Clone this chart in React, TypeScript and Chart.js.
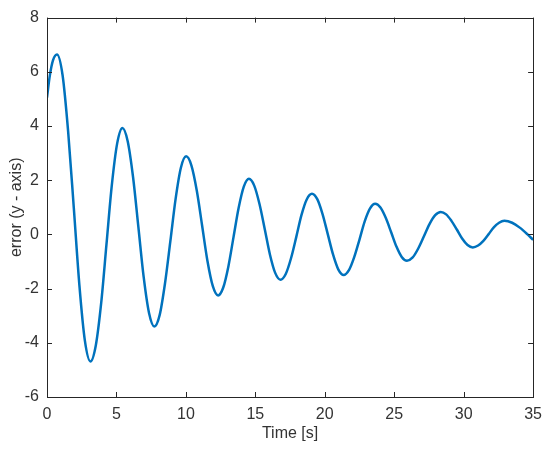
import React, { useEffect, useRef } from "react";
import { Chart, registerables } from "chart.js";

Chart.register(...registerables);

// Time [s] and error (y - axis)
const timeValues = [
  0, 0.2, 0.43, 0.72,
  1.12, 1.52, 1.93, 2.33, 2.73, 3.13,
  3.51, 3.9, 4.28, 4.66, 5.05, 5.43,
  5.81, 6.2, 6.58, 6.96, 7.35, 7.73,
  8.11, 8.49, 8.88, 9.26, 9.64, 10.02,
  10.4, 10.79, 11.17, 11.55, 11.94, 12.32,
  12.69, 13.06, 13.43, 13.8, 14.17, 14.54,
  14.92, 15.3, 15.68, 16.05, 16.43, 16.81,
  17.19, 17.57, 17.95, 18.32, 18.7, 19.08,
  19.46, 19.84, 20.22, 20.6, 20.98, 21.36,
  21.74, 22.12, 22.5, 22.87, 23.25, 23.63,
  24.01, 24.39, 24.78, 25.16, 25.54, 25.92,
  26.33, 26.73, 27.14, 27.54, 27.95, 28.35,
  28.74, 29.12, 29.51, 29.89, 30.28, 30.66,
  31.04, 31.42, 31.8, 32.17, 32.55, 32.93,
  33.49, 34.04, 34.6, 35,
];
const errorValues = [
  5.05, 5.85, 6.42, 6.64,
  5.88, 3.81, 0.98, -1.86, -3.93, -4.69,
  -4.11, -2.54, -0.38, 1.78, 3.35, 3.93,
  3.44, 2.1, 0.27, -1.57, -2.91, -3.4,
  -2.98, -1.83, -0.26, 1.31, 2.46, 2.88,
  2.54, 1.6, 0.32, -0.97, -1.91, -2.25,
  -1.96, -1.18, -0.1, 0.98, 1.76, 2.05,
  1.8, 1.12, 0.19, -0.74, -1.42, -1.67,
  -1.46, -0.88, -0.09, 0.71, 1.29, 1.5,
  1.3, 0.75, 0, -0.75, -1.3, -1.5,
  -1.32, -0.84, -0.19, 0.47, 0.95, 1.13,
  0.99, 0.61, 0.08, -0.45, -0.83, -0.97,
  -0.85, -0.52, -0.07, 0.38, 0.71, 0.83,
  0.74, 0.5, 0.18, -0.15, -0.39, -0.48,
  -0.41, -0.24, 0.01, 0.26, 0.43, 0.5,
  0.43, 0.25, 0, -0.2,
];
const xTickValues = [0, 5, 10, 15, 20, 25, 30, 35];
const yTickValues = [-6, -4, -2, 0, 2, 4, 6, 8];
const xAxisTitle = "Time [s]";
const yAxisTitle = "error (y - axis)";

const AXIS_COLOR = "#262626";
const TEXT_COLOR = "#333333";
const LINE_COLOR = "#0072BD";
const FONT = "'Liberation Sans', Arial, Helvetica, sans-serif";
const FONT_SIZE = 16;

const boxPlugin = {
  id: "matlabBox",
  afterDraw(chart: any) {
    const { ctx, chartArea } = chart;
    const { left, right, top, bottom } = chartArea;
    const xs = chart.scales.x;
    const ys = chart.scales.y;
    const tl = 5;
    ctx.save();
    ctx.strokeStyle = AXIS_COLOR;
    ctx.lineWidth = 1;
    ctx.beginPath();
    xs.ticks.forEach((t: any) => {
      const px = Math.round(xs.getPixelForValue(t.value)) + 0.5;
      ctx.moveTo(px, bottom);
      ctx.lineTo(px, bottom - tl);
      ctx.moveTo(px, top);
      ctx.lineTo(px, top + tl);
    });
    ys.ticks.forEach((t: any) => {
      const py = Math.round(ys.getPixelForValue(t.value)) + 0.5;
      ctx.moveTo(left, py);
      ctx.lineTo(left + tl, py);
      ctx.moveTo(right, py);
      ctx.lineTo(right - tl, py);
    });
    ctx.stroke();
    ctx.strokeRect(
      Math.round(left) + 0.5,
      Math.round(top) + 0.5,
      Math.round(right - left),
      Math.round(bottom - top)
    );
    ctx.restore();
  },
};

export default function App() {
  const canvasRef = useRef<HTMLCanvasElement | null>(null);

  useEffect(() => {
    if (!canvasRef.current) return;
    const points = timeValues.map((t, i) => ({ x: t, y: errorValues[i] }));
    const chart = new Chart(canvasRef.current, {
      type: "line",
      data: {
        datasets: [
          {
            data: points,
            borderColor: LINE_COLOR,
            borderWidth: 2.5,
            pointRadius: 0,
            fill: false,
            cubicInterpolationMode: "monotone",
          },
        ],
      },
      options: {
        animation: false,
        responsive: false,
        maintainAspectRatio: false,
        layout: { padding: { left: 0, top: 13, right: 15, bottom: 0 } },
        plugins: {
          legend: { display: false },
          tooltip: { enabled: false },
        },
        scales: {
          x: {
            type: "linear",
            min: 0,
            max: 35,
            afterBuildTicks: (s: any) => {
              s.ticks = xTickValues.map((v) => ({ value: v }));
            },
            afterFit: (s: any) => {
              s.height = 55;
            },
            grid: { display: false, drawTicks: false },
            border: { display: false },
            ticks: {
              color: TEXT_COLOR,
              padding: 8,
              maxRotation: 0,
              font: { family: FONT, size: FONT_SIZE },
            },
            title: {
              display: true,
              text: xAxisTitle,
              color: TEXT_COLOR,
              font: { family: FONT, size: FONT_SIZE },
              padding: { top: 0, bottom: 9 },
            },
          },
          y: {
            type: "linear",
            min: -6,
            max: 8,
            afterBuildTicks: (s: any) => {
              s.ticks = yTickValues.map((v) => ({ value: v }));
            },
            afterFit: (s: any) => {
              s.width = 47;
            },
            grid: { display: false, drawTicks: false },
            border: { display: false },
            ticks: {
              color: TEXT_COLOR,
              padding: 8,
              font: { family: FONT, size: FONT_SIZE },
            },
            title: {
              display: true,
              text: yAxisTitle,
              color: TEXT_COLOR,
              font: { family: FONT, size: FONT_SIZE },
              padding: { top: 7, bottom: 0 },
            },
          },
        },
      },
      plugins: [boxPlugin],
    });
    return () => chart.destroy();
  }, []);

  return (
    <div style={{ position: "fixed", left: 0, top: 0, width: 550, height: 452, background: "#fff" }}>
      <canvas ref={canvasRef} width={550} height={452} style={{ display: "block" }} />
    </div>
  );
}
